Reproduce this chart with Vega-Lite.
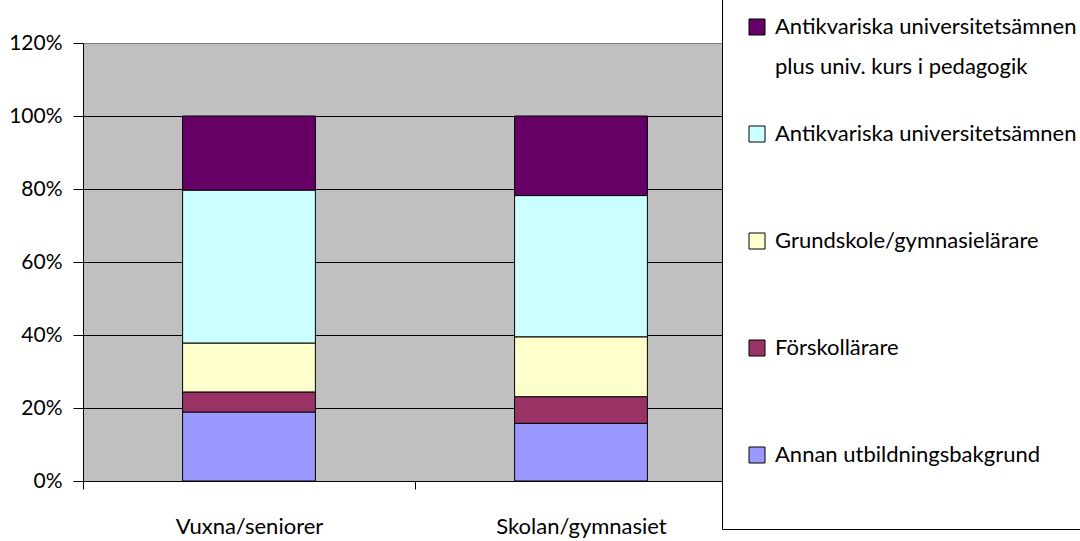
{
  "$schema": "https://vega.github.io/schema/vega-lite/v6.json",
  "autosize": {"type": "none"},
  "padding": {"left": 83, "top": 43, "right": 333, "bottom": 60},
  "width": 664,
  "height": 438,
  "background": "white",
  "config": {
    "view": {"fill": "#C0C0C0", "stroke": "#808080", "strokeWidth": 1},
    "font": "Lato",
    "style": {"guide-label": {"lineHeight": 40}}
  },
  "data": {
    "values": [
      {"grupp": "Vuxna/seniorer", "bakgrund": "Annan utbildningsbakgrund", "ordning": 1, "andel": 0.189},
      {"grupp": "Vuxna/seniorer", "bakgrund": "Förskollärare", "ordning": 2, "andel": 0.055},
      {"grupp": "Vuxna/seniorer", "bakgrund": "Grundskole/gymnasielärare", "ordning": 3, "andel": 0.134},
      {"grupp": "Vuxna/seniorer", "bakgrund": "Antikvariska universitetsämnen", "ordning": 4, "andel": 0.419},
      {"grupp": "Vuxna/seniorer", "bakgrund": "Antikvariska universitetsämnen plus univ. kurs i pedagogik", "ordning": 5, "andel": 0.203},
      {"grupp": "Skolan/gymnasiet", "bakgrund": "Annan utbildningsbakgrund", "ordning": 1, "andel": 0.158},
      {"grupp": "Skolan/gymnasiet", "bakgrund": "Förskollärare", "ordning": 2, "andel": 0.073},
      {"grupp": "Skolan/gymnasiet", "bakgrund": "Grundskole/gymnasielärare", "ordning": 3, "andel": 0.164},
      {"grupp": "Skolan/gymnasiet", "bakgrund": "Antikvariska universitetsämnen", "ordning": 4, "andel": 0.387},
      {"grupp": "Skolan/gymnasiet", "bakgrund": "Antikvariska universitetsämnen plus univ. kurs i pedagogik", "ordning": 5, "andel": 0.218}
    ]
  },
  "mark": {"type": "bar", "width": {"band": 0.4}, "stroke": "black", "strokeWidth": 1},
  "encoding": {
    "x": {
      "field": "grupp",
      "type": "nominal",
      "sort": ["Vuxna/seniorer", "Skolan/gymnasiet"],
      "scale": {"paddingInner": 0, "paddingOuter": 0},
      "axis": {
        "title": null,
        "labelAngle": 0,
        "labelFontSize": 22,
        "labelColor": "black",
        "labelPadding": 27,
        "domainColor": "black",
        "tickColor": "black",
        "tickSize": 8,
        "tickBand": "extent",
        "grid": false
      }
    },
    "y": {
      "field": "andel",
      "type": "quantitative",
      "stack": "zero",
      "scale": {"domain": [0, 1.2], "nice": false},
      "axis": {
        "title": null,
        "format": ".0%",
        "values": [0, 0.2, 0.4, 0.6, 0.8, 1.0, 1.2],
        "labelFontSize": 21,
        "labelColor": "black",
        "labelPadding": 11,
        "domainColor": "black",
        "tickColor": "black",
        "tickSize": 10,
        "grid": true,
        "gridColor": {"condition": {"test": "datum.value >= 1.2", "value": "#808080"}, "value": "black"},
        "gridOpacity": 1
      }
    },
    "order": {"field": "ordning", "type": "quantitative"},
    "color": {
      "field": "bakgrund",
      "type": "nominal",
      "sort": ["Antikvariska universitetsämnen plus univ. kurs i pedagogik", "Antikvariska universitetsämnen", "Grundskole/gymnasielärare", "Förskollärare", "Annan utbildningsbakgrund"],
      "scale": {
        "domain": ["Antikvariska universitetsämnen plus univ. kurs i pedagogik", "Antikvariska universitetsämnen", "Grundskole/gymnasielärare", "Förskollärare", "Annan utbildningsbakgrund"],
        "range": ["#660066", "#CCFFFF", "#FFFFCC", "#993366", "#9999FF"]
      },
      "legend": {
        "title": " ",
        "titleOrient": "bottom",
        "titleFontSize": 14,
        "titlePadding": 25,
        "orient": "none",
        "legendX": 639,
        "legendY": -51,
        "fillColor": "white",
        "strokeColor": "black",
        "padding": 24,
        "gridAlign": "all",
        "symbolType": "square",
        "symbolSize": 256,
        "symbolStrokeColor": "black",
        "symbolStrokeWidth": 1,
        "symbolOpacity": 1,
        "labelFontSize": 22,
        "labelColor": "black",
        "labelLimit": 500,
        "labelOffset": 7,
        "rowPadding": 45,
        "labelExpr": "datum.label == 'Antikvariska universitetsämnen plus univ. kurs i pedagogik' ? ['Antikvariska universitetsämnen', 'plus univ. kurs i pedagogik'] : datum.label"
      }
    }
  }
}
